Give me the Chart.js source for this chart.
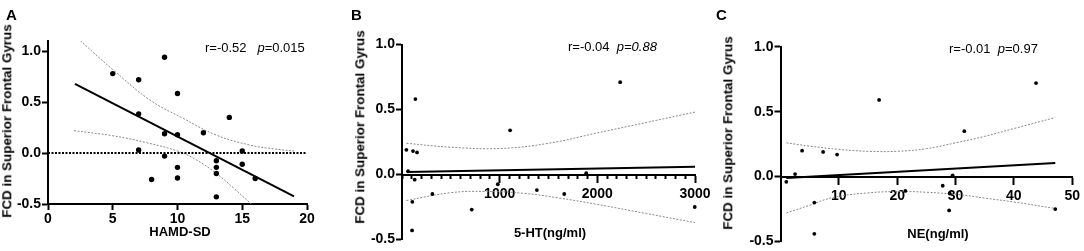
<!DOCTYPE html>
<html>
<head>
<meta charset="utf-8">
<script src="https://cdn.jsdelivr.net/npm/chart.js@4.4.0/dist/chart.umd.min.js"></script>
<style>
  body { margin: 0; width: 1084px; height: 251px; background: #fff; position: relative; overflow: hidden;
         font-family: "Liberation Sans", Arial, sans-serif; color: #000; }
  canvas { position: absolute; top: 0; }
  .lbl { position: absolute; white-space: nowrap; line-height: 1; }
  .panel { font-weight: bold; font-size: 15px; }
  .ytitle { font-weight: bold; font-size: 13.4px; transform: translate(-50%, -50%) rotate(-90deg); }
  .xtitle { font-weight: bold; font-size: 13px; transform: translate(-50%, -50%); }
  .stat { font-size: 13px; }
</style>
</head>
<body>
<canvas id="chartA" width="360" height="251" style="left:0px"></canvas>
<canvas id="chartB" width="362" height="251" style="left:360px"></canvas>
<canvas id="chartC" width="362" height="251" style="left:722px"></canvas>

<div class="lbl panel" style="left:6px;top:7px">A</div>
<div class="lbl panel" style="left:351px;top:7px">B</div>
<div class="lbl panel" style="left:716px;top:7px">C</div>

<div class="lbl ytitle" style="left:7px;top:121px">FCD in Superior Frontal Gyrus</div>
<div class="lbl ytitle" style="left:360px;top:127px">FCD in Superior Frontal Gyrus</div>
<div class="lbl ytitle" style="left:728px;top:133px">FCD in Superior Frontal Gyrus</div>

<div class="lbl xtitle" style="left:180px;top:231px">HAMD-SD</div>
<div class="lbl xtitle" style="left:550px;top:232px">5-HT(ng/ml)</div>
<div class="lbl xtitle" style="left:938px;top:233px">NE(ng/ml)</div>

<div class="lbl stat" style="left:205px;top:41px">r=-0.52&nbsp;&nbsp;&nbsp;<i>p</i>=0.015</div>
<div class="lbl stat" style="left:568px;top:40px">r=-0.04&nbsp;&nbsp;<i>p=0.88</i></div>
<div class="lbl stat" style="left:949px;top:42px">r=-0.01&nbsp;&nbsp;<i>p</i>=0.97</div>

<script>
// === Data ===
// Panel A: HAMD-SD vs FCD
const hamdX = [5, 7, 7, 7, 8, 9, 9, 9, 10, 10, 10, 10, 12, 13, 13, 13, 13, 14, 15, 15, 16];
const hamdFcd = [0.78, 0.72, 0.385, 0.03, -0.26, 0.94, 0.19, -0.03, 0.585, 0.18, -0.14, -0.245,
                 0.2, -0.075, -0.14, -0.2, -0.43, 0.35, 0.02, -0.11, -0.25];
const hamdFitX = [2.08, 19];
const hamdFitY = [0.68, -0.425];
const hamdUpX = [2.08, 5, 7.88, 10.45, 13, 15.6, 17.5, 19];
const hamdUpY = [1.15, 0.82, 0.52, 0.34, 0.176, 0.078, 0.04, 0.02];
const hamdLoX = [2, 5, 7.5, 10, 11.5, 13, 14.3, 15.6, 16];
const hamdLoY = [0.22, 0.17, 0.105, 0.02, -0.07, -0.2, -0.34, -0.49, -0.535];
const hamdZeroX = [0, 20];
const hamdZeroY = [0, 0];

// Panel B: 5-HT vs FCD
const htX = [45, 62, 113, 137, 154, 130, 106, 103, 311, 714, 981, 1107, 1381, 1661, 1886, 2234, 2997];
const htFcd = [0.19, 0.025, 0.18, 0.58, 0.17, -0.04, -0.21, -0.43, -0.15, -0.27, -0.075, 0.34,
               -0.12, -0.15, 0.01, 0.71, -0.25];
const htFitX = [50, 3000];
const htFitY = [0.02, 0.06];
const htUpX = [45, 500, 1000, 1500, 2000, 2500, 3000];
const htUpY = [0.24, 0.21, 0.2, 0.24, 0.32, 0.4, 0.48];
const htLoX = [45, 500, 850, 1250, 1600, 2000, 2500, 3000];
const htLoY = [-0.2, -0.14, -0.13, -0.145, -0.18, -0.23, -0.3, -0.37];

// Panel C: NE vs FCD
const neX = [1.0, 2.5, 3.7, 5.8, 5.8, 7.3, 9.7, 16.9, 21.4, 27.8, 28.9, 29.5, 29.0, 31.5, 43.8, 47.1];
const neFcd = [-0.04, 0.02, 0.2, -0.2, -0.44, 0.19, 0.17, 0.59, -0.11, -0.07, -0.26, 0.01, -0.13,
               0.35, 0.72, -0.25];
const neFitX = [1, 47.1];
const neFitY = [-0.01, 0.105];
const neUpX = [1, 5, 10, 15, 20, 25, 30, 35, 40, 47.1];
const neUpY = [0.26, 0.235, 0.21, 0.195, 0.195, 0.215, 0.26, 0.31, 0.37, 0.455];
const neLoX = [1, 5, 9, 15, 20, 25, 30.8, 35, 40, 47.1];
const neLoY = [-0.28, -0.22, -0.16, -0.125, -0.115, -0.12, -0.14, -0.165, -0.195, -0.245];

// Tick values
const yTicks = [-0.5, 0, 0.5, 1.0];
const xTicksA = [0, 5, 10, 15, 20];
const xTicksB = [1000, 2000, 3000];   // labelled, long ticks; minor ticks every 100
const xTicksC = [10, 20, 30, 40, 50];

// === Helpers ===
const tickFont = { family: "Liberation Sans", size: 14, weight: "bold" };

function toPts(xs, ys) {
  return xs.map((x, i) => ({ x: x, y: ys[i] }));
}

function pointsSet(xs, ys, r) {
  return { data: toPts(xs, ys), pointRadius: r, pointBackgroundColor: "#000",
           pointBorderWidth: 0, showLine: false, clip: false };
}

function lineSet(xs, ys, opts) {
  return Object.assign({ data: toPts(xs, ys), showLine: true, pointRadius: 0,
                         borderColor: "#000", borderWidth: 2, tension: 0 }, opts);
}

function bandSet(xs, ys) {
  return lineSet(xs, ys, { borderColor: "#8a8a8a", borderWidth: 1, borderDash: [2, 1.5], tension: 0.4 });
}

function axisOpts(min, max, ticks, extra) {
  return Object.assign({
    type: "linear",
    min: min,
    max: max,
    afterBuildTicks: (s) => { s.ticks = ticks.map((v) => ({ value: v })); },
    grid: { drawOnChartArea: false, drawTicks: true, tickLength: 6, tickWidth: 2, tickColor: "#000" },
    border: { display: true, color: "#000", width: 2 },
    ticks: { color: "#000", font: tickFont, padding: 1, autoSkip: false, maxRotation: 0,
             callback: (v) => String(v) },
  }, extra);
}

// y axis box is given a fixed width so the plot area starts where the reference does
function yAxis(width) {
  return axisOpts(-0.5, 1.0, yTicks, {
    position: "left",
    afterFit: (s) => { s.width = width; },
    ticks: { color: "#000", font: tickFont, padding: 1, autoSkip: false,
             callback: (v) => v.toFixed(1) },
  });
}

function makeChart(id, datasets, scales, padding) {
  return new Chart(document.getElementById(id), {
    type: "scatter",
    data: { datasets: datasets },
    options: {
      responsive: false,
      animation: false,
      devicePixelRatio: 1,
      layout: { padding: padding },
      plugins: { legend: { display: false }, tooltip: { enabled: false } },
      scales: scales,
    },
  });
}

// === Panel A ===
const yA = yAxis(48);
yA.max = 1.1;
makeChart("chartA", [
  pointsSet(hamdX, hamdFcd, 2.7),
  lineSet(hamdFitX, hamdFitY, {}),
  lineSet(hamdZeroX, hamdZeroY, { borderDash: [2, 1.5] }),
  bandSet(hamdUpX, hamdUpY),
  bandSet(hamdLoX, hamdLoY),
], {
  x: axisOpts(0, 20, xTicksA, { position: "bottom", afterFit: (s) => { s.height = 47; } }),
  y: yA,
}, { left: 0, right: 53, top: 41, bottom: 0 });

// === Panel B ===
// x axis crosses at y = 0; short minor ticks are cut from the long ones with a dash
const isMajorB = (v) => xTicksB.includes(v);
makeChart("chartB", [
  pointsSet(htX, htFcd, 1.9),
  lineSet(htFitX, htFitY, {}),
  bandSet(htUpX, htUpY),
  bandSet(htLoX, htLoY),
], {
  x: {
    type: "linear",
    min: 0,
    max: 3000,
    position: { y: 0 },
    afterFit: (s) => { s.height = 0; },
    grid: {
      drawOnChartArea: false, drawTicks: true, tickLength: 7, tickWidth: 2, tickColor: "#000",
      tickBorderDash: (ctx) => (ctx.tick && isMajorB(ctx.tick.value) ? [] : [3, 30]),
    },
    border: { display: true, color: "#000", width: 2 },
    ticks: { color: "#000", font: tickFont, padding: 4, autoSkip: false, maxRotation: 0, stepSize: 100,
             callback: (v) => (isMajorB(v) ? String(v) : "") },
  },
  y: yAxis(42),
}, { left: 0, right: 27, top: 44.5, bottom: 11.5 });

// === Panel C ===
makeChart("chartC", [
  pointsSet(neX, neFcd, 1.9),
  lineSet(neFitX, neFitY, {}),
  bandSet(neUpX, neUpY),
  bandSet(neLoX, neLoY),
], {
  x: axisOpts(0, 50, xTicksC, {
    position: { y: 0 },
    afterFit: (s) => { s.height = 0; },
    grid: { drawOnChartArea: false, drawTicks: true, tickLength: 7, tickWidth: 2, tickColor: "#000" },
    ticks: { color: "#000", font: tickFont, padding: 4, autoSkip: false, maxRotation: 0,
             callback: (v) => String(v) },
  }),
  y: yAxis(58.5),
}, { left: 0, right: 11.7, top: 46.7, bottom: 9.3 });
</script>
</body>
</html>
